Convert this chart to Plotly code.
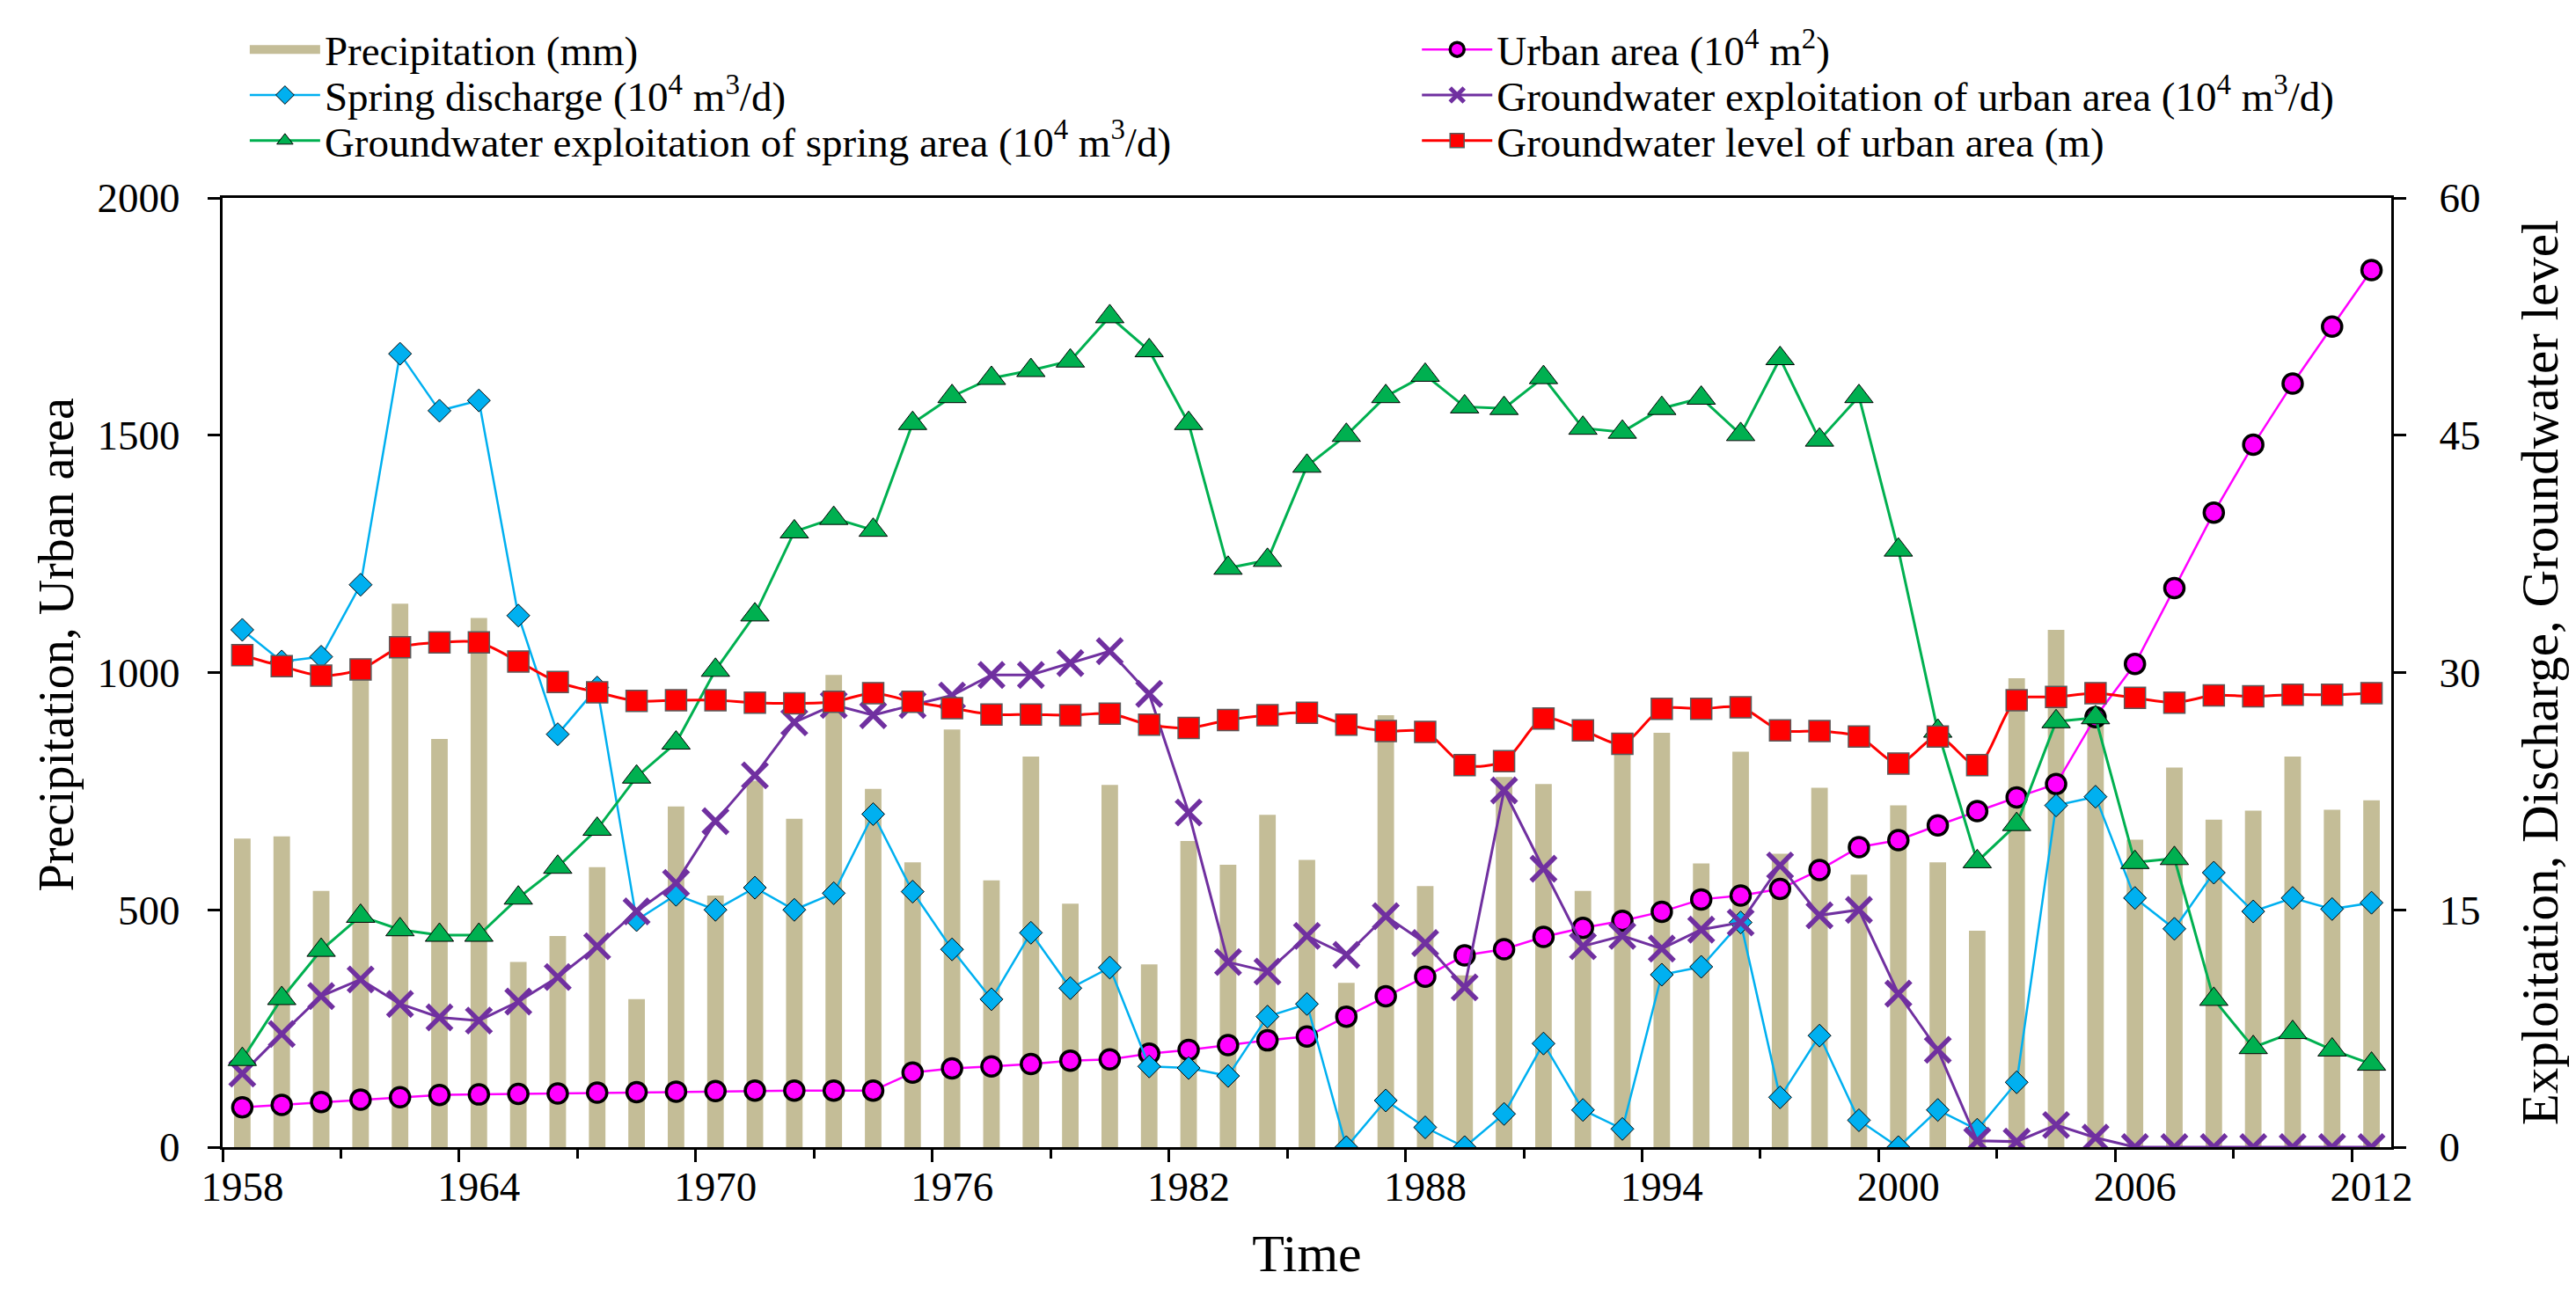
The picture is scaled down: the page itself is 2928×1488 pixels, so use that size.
import plotly.graph_objects as go

years = list(range(1958, 2013))

precipitation = [650, 655, 540, 1000, 1145, 860, 1115, 390, 445, 590, 312, 718, 530, 772, 692, 995, 755, 600,
                 880, 562, 823, 513, 763, 385, 645, 595, 700, 605, 346, 910, 550, 362, 780, 765, 540, 840, 873,
                 598, 833, 618, 757, 574, 720, 600, 456, 988, 1090, 910, 648, 800, 690, 709, 823, 711, 731]

urban_area = [84, 89, 95, 100, 105, 110, 111, 112, 113, 115, 116, 117, 118, 119, 119, 119, 119, 157,
              166, 170, 175, 182, 185, 197, 205, 215, 225, 233, 275, 318, 359, 404, 417, 443, 462, 477, 496,
              522, 530, 544, 584, 632, 647, 678, 708, 737, 765, 906, 1018, 1178, 1337, 1480, 1609, 1729, 1848]

spring_discharge = [32.7, 30.7, 31.0, 35.55, 50.15, 46.55, 47.2, 33.6, 26.1, 29.05, 14.35, 15.95, 15.0, 16.4, 15.0, 16.05, 21.05, 16.15,
                    12.5, 9.35, 13.55, 10.05, 11.35, 5.1, 5.0, 4.5, 8.25, 9.05, 0, 2.95, 1.25, 0, 2.1, 6.55, 2.35, 1.15, 10.9,
                    11.4, 14.2, 3.15, 7.05, 1.7, 0, 2.35, 1.1, 4.1, 21.6, 22.15, 15.75, 13.8, 17.35, 14.9, 15.75, 15.05, 15.45]

expl_spring = [5.55, 9.4, 12.45, 14.6, 13.75, 13.4, 13.4, 15.75, 17.7, 20.1, 23.4, 25.55, 30.15, 33.65, 38.9, 39.75, 39.0, 45.75,
               47.45, 48.6, 49.1, 49.7, 52.5, 50.35, 45.75, 36.6, 37.1, 43.05, 45.0, 47.45, 48.8, 46.8, 46.7, 48.65, 45.45, 45.2, 46.7,
               47.35, 45.05, 49.85, 44.7, 47.45, 37.75, 26.3, 18.05, 20.4, 26.9, 27.15, 18.0, 18.25, 9.35, 6.3, 7.25, 6.15, 5.25]

expl_urban = [4.65, 7.15, 9.55, 10.6, 9.05, 8.2, 8.0, 9.2, 10.75, 12.7, 14.9, 16.7, 20.6, 23.5, 26.85, 27.95, 27.3, 27.95,
              28.55, 29.85, 29.85, 30.6, 31.35, 28.65, 21.15, 11.7, 11.1, 13.35, 12.15, 14.6, 12.9, 10.1, 22.55, 17.6, 12.7, 13.35, 12.55,
              13.75, 14.2, 17.8, 14.65, 15.0, 9.7, 6.15, 0.4, 0.35, 1.4, 0.6, 0, 0, 0, 0, 0, 0, 0]

gw_level = [31.1, 30.4, 29.8, 30.2, 31.6, 31.9, 31.9, 30.7, 29.4, 28.75, 28.2, 28.25, 28.25, 28.1, 28.05, 28.15, 28.7, 28.15,
            27.75, 27.35, 27.35, 27.3, 27.4, 26.7, 26.5, 27.0, 27.3, 27.45, 26.7, 26.3, 26.25, 24.15, 24.4, 27.1, 26.35, 25.5, 27.7,
            27.7, 27.8, 26.35, 26.3, 25.95, 24.25, 25.95, 24.15, 28.25, 28.45, 28.7, 28.4, 28.1, 28.55, 28.5, 28.6, 28.6, 28.7]

label_years = [1958, 1964, 1970, 1976, 1982, 1988, 1994, 2000, 2006, 2012]
major_ticks = [1957.5 + 6 * k for k in range(10)]
minor_ticks = [1960.5 + 6 * k for k in range(10)]

FONT = "Liberation Serif, Times New Roman, serif"

fig = go.Figure()

# precipitation bars (legend drawn by a legend-only patch below)
fig.add_trace(go.Bar(x=years, y=precipitation, name="Precipitation (mm)", width=0.42,
                     marker=dict(color="#C4BD97", line=dict(width=0)), showlegend=False, yaxis="y"))
fig.add_trace(go.Scatter(x=[None], y=[None], name="Precipitation (mm)", mode="lines",
                         line=dict(color="#C4BD97", width=25), legend="legend", yaxis="y", hoverinfo="skip"))

fig.add_trace(go.Scatter(x=years, y=urban_area, name="Urban area (10<sup>4</sup> m<sup>2</sup>)",
                         mode="lines+markers", line=dict(color="#FF00FF", width=2.5),
                         marker=dict(symbol="circle", size=22, color="#FF00FF", line=dict(color="black", width=3.5)),
                         legend="legend4", yaxis="y"))

fig.add_trace(go.Scatter(x=years, y=spring_discharge, name="Spring discharge (10<sup>4</sup> m<sup>3</sup>/d)",
                         mode="lines+markers", line=dict(color="#00B0F0", width=2.5),
                         marker=dict(symbol="diamond", size=20, color="#00B0F0", line=dict(color="black", width=1)),
                         legend="legend2", yaxis="y2"))

fig.add_trace(go.Scatter(x=years, y=expl_urban, name="Groundwater exploitation of urban area (10<sup>4</sup> m<sup>3</sup>/d)",
                         mode="lines+markers", line=dict(color="#7030A0", width=3),
                         marker=dict(symbol="x-thin", size=28, color="#7030A0", line=dict(color="#7030A0", width=5.5)),
                         legend="legend5", yaxis="y2"))

fig.add_trace(go.Scatter(x=years, y=expl_spring, name="Groundwater exploitation of spring area (10<sup>4</sup> m<sup>3</sup>/d)",
                         mode="lines+markers", line=dict(color="#00B050", width=3),
                         marker=dict(symbol="triangle-up", size=28, color="#00B050", line=dict(color="black", width=1)),
                         legend="legend3", yaxis="y2"))

fig.add_trace(go.Scatter(x=years, y=gw_level, name="Groundwater level of urban area (m)",
                         mode="lines+markers", line=dict(color="#FF0000", width=3, shape="spline", smoothing=0.8),
                         marker=dict(symbol="square", size=24, color="#FF0000", line=dict(color="#5a5a5a", width=1.5)),
                         legend="legend6", yaxis="y2"))

# dummy trace so the label axis is drawn
fig.add_trace(go.Scatter(x=[None], y=[None], xaxis="x2", yaxis="y", showlegend=False, hoverinfo="skip"))

axis_font = dict(family=FONT, size=47, color="black")
leg_font = dict(family=FONT, size=47, color="black")

def leg(x, y):
    return dict(x=x, y=y, xanchor="left", yanchor="middle", bgcolor="rgba(0,0,0,0)",
                font=leg_font, itemwidth=80, tracegroupgap=0)

row_y = [1.155, 1.107, 1.059]
col_x = [0.0105, 0.551]

fig.update_layout(
    width=2920, height=1480,
    margin=dict(l=245, r=210, t=216, b=184),
    paper_bgcolor="white", plot_bgcolor="white",
    font=dict(family=FONT, color="black"),
    barmode="overlay",
    xaxis=dict(range=[1957.5, 2012.5], showgrid=False, zeroline=False,
               showline=True, linecolor="black", linewidth=3, mirror=True,
               tickmode="array", tickvals=major_ticks, showticklabels=False,
               ticks="outside", ticklen=14, tickwidth=2.5, tickcolor="black",
               minor=dict(tickvals=minor_ticks, ticks="outside", ticklen=10, tickwidth=2.5, tickcolor="black")),
    xaxis2=dict(range=[1957.5, 2012.5], overlaying="x", anchor="y", side="bottom",
                showgrid=False, zeroline=False, showline=False,
                tickmode="array", tickvals=label_years, ticktext=[str(v) for v in label_years],
                ticks="", ticklabelstandoff=13,
                tickfont=axis_font,
                title=dict(text="Time", font=dict(family=FONT, size=60, color="black"), standoff=28)),
    yaxis=dict(range=[0, 2000], tickmode="array", tickvals=[0, 500, 1000, 1500, 2000],
               showgrid=False, zeroline=False, showline=True, linecolor="black", linewidth=3,
               ticks="outside", ticklen=14, tickwidth=2.5, tickcolor="black", ticklabelstandoff=22,
               tickfont=axis_font),
    yaxis2=dict(range=[0, 60], overlaying="y", side="right", anchor="x",
                tickmode="array", tickvals=[0, 15, 30, 45, 60],
                showgrid=False, zeroline=False, showline=True, linecolor="black", linewidth=3,
                ticks="outside", ticklen=14, tickwidth=2.5, tickcolor="black", ticklabelstandoff=28,
                tickfont=axis_font,
                title=dict(text="Exploitation, Discharge, Groundwater level", font=dict(family=FONT, size=59, color="black"), standoff=48)),
    annotations=[dict(text="Precipitation, Urban area", xref="paper", yref="paper",
                      x=-0.0767, y=0.5296, xanchor="center", yanchor="middle", textangle=-90,
                      showarrow=False, font=dict(family=FONT, size=56, color="black"))],
    legend=leg(col_x[0], row_y[0]),
    legend2=leg(col_x[0], row_y[1]),
    legend3=leg(col_x[0], row_y[2]),
    legend4=leg(col_x[1], row_y[0]),
    legend5=leg(col_x[1], row_y[1]),
    legend6=leg(col_x[1], row_y[2]),
    showlegend=True,
)

fig.write_html("out.html")
